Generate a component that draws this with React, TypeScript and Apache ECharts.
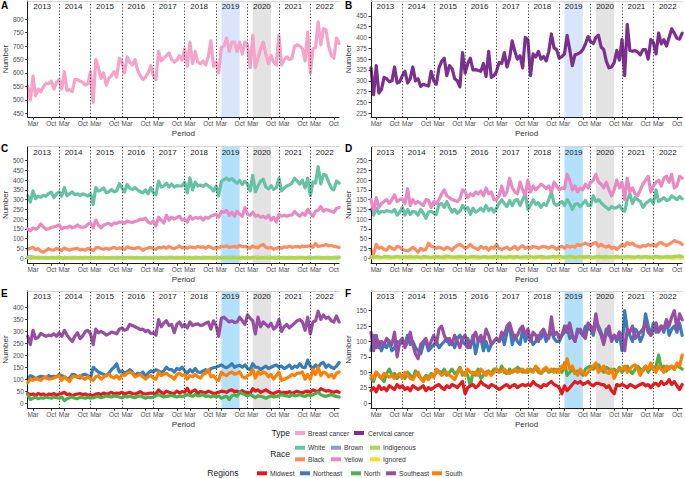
import React, { useEffect, useRef } from "react";
import * as echarts from "echarts";

const FONT = "'Liberation Sans', Arial, Helvetica, sans-serif";

const YEARS = ["2013", "2014", "2015", "2016", "2017", "2018", "2019", "2020", "2021", "2022"];
const MONTH_NAMES = ["Jan", "Feb", "Mar", "Apr", "May", "Jun", "Jul", "Aug", "Sep", "Oct", "Nov", "Dec"];
const X_TICK_MONTHS = ["Mar", "Oct"];
const BAND_2019 = [74, 81];
const BAND_2020 = [86, 93];

const Y_TICKS_A = [450, 500, 550, 600, 650, 700, 750, 800];
const Y_TICKS_B = [225, 250, 275, 300, 325, 350, 375, 400, 425, 450];
const Y_TICKS_C = [0, 50, 100, 150, 200, 250, 300, 350, 400, 450, 500];
const Y_TICKS_D = [0, 25, 50, 75, 100, 125, 150, 175, 200, 225, 250];
const Y_TICKS_E = [0, 50, 100, 150, 200, 250, 300, 350, 400];
const Y_TICKS_F = [0, 25, 50, 75, 100, 125, 150];

// Panel A: breast cancer
const BREAST = [
  550, 500, 588, 515, 540, 530, 548, 562, 560, 570, 540, 565,
  575, 540, 605, 535, 538, 530, 575, 575, 570, 565, 555, 560,
  605, 490, 650, 620, 580, 600, 555, 580, 590, 605, 585, 655,
  640, 600, 660, 640, 630, 650, 610, 590, 575, 585, 600, 628,
  590, 575, 680, 645, 655, 665, 675, 650, 640, 648, 665, 648,
  690, 625, 715, 635, 680, 640, 635, 645, 630, 660, 720, 625,
  640, 600, 695, 700, 730, 680, 715, 715, 680, 715, 670, 715,
  705, 620, 740, 620, 655, 690, 715, 670, 635, 665, 640, 630,
  740, 630, 650, 660, 650, 655, 700, 705, 700, 690, 645, 752,
  600, 690, 695, 790, 705, 765, 760, 700, 665, 655, 730, 710,
];
// Panel B: cervical cancer
const CERVICAL = [
  330, 268, 335, 272, 280, 308, 305, 298, 300, 332, 295, 298,
  312, 322, 295, 305, 332, 300, 305, 287, 292, 290, 288, 322,
  300, 292, 330, 345, 352, 312, 335, 328, 305, 300, 286, 365,
  318, 340, 352, 325, 326, 324, 322, 340, 310, 368, 308, 312,
  322, 342, 340, 365, 332, 352, 392, 368, 350, 358, 330, 400,
  395, 312, 362, 355, 368, 350, 356, 346, 368, 408, 376, 372,
  352, 356, 362, 405, 372, 335, 360, 362, 365, 372, 385, 402,
  390, 386, 400, 405, 378, 372, 345, 330, 332, 342, 370, 348,
  395, 312, 430, 370, 368, 370, 366, 360, 372, 372, 350, 395,
  388, 362, 410, 385, 395, 380, 400, 420, 410, 398, 396, 410,
];

// Panel C: breast cancer by race
const C_WHITE = [
  320, 288, 345, 305, 318, 312, 322, 318, 332, 338, 310, 330,
  340, 318, 362, 320, 330, 340, 325, 330, 322, 330, 325, 318,
  330, 275, 362, 345, 350, 360, 335, 340, 352, 340, 345, 382,
  360, 340, 378, 358, 352, 362, 350, 340, 335, 350, 330, 362,
  335, 325, 395, 365, 370, 385, 365, 380, 365, 372, 370, 370,
  390, 335, 412, 350, 390, 370, 375, 368, 380, 370, 362, 345,
  370, 320, 395, 402, 410, 400, 408, 395, 385, 398, 378, 395,
  380, 345, 425, 340, 370, 395, 405, 365, 355, 372, 352, 362,
  410, 345, 360, 370, 375, 385, 410, 395, 380, 400, 360, 410,
  320, 390, 385, 470, 380, 430, 425, 390, 360, 350, 395, 385,
];
const C_BLACK = [
  45, 50, 55, 42, 48, 35, 30, 40, 48, 42, 40, 50,
  45, 38, 52, 45, 40, 45, 48, 50, 42, 45, 40, 50,
  45, 38, 52, 55, 48, 45, 50, 45, 50, 55, 48, 52,
  50, 45, 58, 52, 50, 48, 55, 50, 40, 48, 52, 55,
  48, 45, 55, 52, 58, 50, 60, 52, 48, 55, 62, 52,
  55, 50, 58, 55, 52, 60, 55, 58, 50, 60, 55, 48,
  55, 52, 60, 58, 62, 55, 58, 60, 55, 65, 58, 60,
  55, 50, 62, 55, 52, 65, 70, 55, 50, 55, 45, 50,
  55, 50, 58, 55, 60, 55, 58, 60, 55, 62, 58, 60,
  65, 55, 75, 60, 62, 65, 70, 62, 65, 60, 58, 55,
];
const C_BROWN = [
  5, 6, 5, 4, 3, 3, 2, 3, 2, 3, 2, 3,
  3, 2, 3, 2, 3, 4, 3, 2, 3, 2, 3, 2,
  2, 3, 2, 3, 2, 3, 2, 2, 3, 2, 3, 2,
  3, 2, 3, 4, 3, 2, 3, 2, 2, 3, 2, 3,
  2, 3, 2, 3, 2, 3, 4, 3, 2, 3, 2, 3,
  3, 2, 3, 2, 3, 3, 2, 3, 4, 3, 2, 3,
  3, 4, 3, 2, 3, 3, 4, 3, 2, 3, 3, 2,
  3, 2, 3, 4, 5, 3, 2, 3, 4, 3, 2, 3,
  3, 2, 3, 2, 3, 3, 2, 3, 4, 3, 2, 3,
  3, 2, 3, 4, 3, 2, 3, 3, 2, 3, 4, 5,
];
const C_YELLOW = [
  150, 140, 155, 148, 155, 175, 160, 148, 150, 158, 160, 165,
  170, 150, 158, 155, 165, 155, 160, 170, 160, 158, 160, 175,
  180, 155, 195, 170, 155, 168, 175, 178, 168, 180, 178, 185,
  185, 178, 190, 185, 182, 188, 192, 200, 198, 205, 185, 178,
  190, 165, 210, 195, 180, 220, 195, 210, 200, 208, 215, 195,
  200, 185, 215, 200, 208, 205, 210, 195, 210, 205, 215, 220,
  225, 210, 240, 235, 245, 220, 235, 215, 240, 225, 215, 260,
  225, 220, 235, 215, 220, 210, 215, 205, 220, 195, 210, 185,
  225, 215, 220, 215, 220, 220, 240, 225, 215, 230, 220, 250,
  230, 215, 240, 245, 265, 240, 250, 245, 240, 235, 255, 260,
];
const C_INDIGENOUS = [
  1, 0, 1, 1, 0, 1, 1, 0, 1, 1, 0, 1,
  1, 1, 0, 1, 1, 0, 1, 1, 1, 0, 1, 1,
  0, 1, 1, 0, 1, 1, 1, 0, 1, 1, 0, 1,
  1, 0, 1, 1, 1, 0, 1, 1, 0, 1, 1, 0,
  1, 1, 0, 1, 1, 0, 1, 1, 1, 0, 1, 1,
  0, 1, 1, 1, 0, 1, 1, 0, 1, 1, 1, 0,
  1, 1, 0, 1, 1, 1, 0, 1, 1, 0, 1, 1,
  1, 0, 1, 1, 0, 1, 1, 1, 0, 1, 1, 0,
  1, 1, 1, 0, 1, 1, 0, 1, 1, 1, 0, 1,
  0, 1, 1, 1, 0, 1, 1, 0, 1, 1, 1, 1,
];
const C_IGNORED = [
  2, 1, 2, 1, 1, 2, 1, 1, 2, 1, 1, 2,
  1, 2, 1, 1, 2, 1, 1, 2, 1, 1, 2, 1,
  1, 1, 2, 1, 1, 2, 1, 1, 1, 2, 1, 1,
  2, 1, 1, 2, 1, 1, 1, 2, 1, 1, 2, 1,
  1, 2, 1, 1, 1, 2, 1, 1, 2, 1, 1, 1,
  2, 1, 1, 2, 1, 1, 2, 1, 1, 1, 2, 1,
  1, 1, 2, 1, 1, 2, 1, 1, 2, 1, 1, 2,
  1, 2, 1, 1, 2, 1, 1, 1, 2, 1, 2, 1,
  1, 1, 2, 1, 2, 1, 1, 2, 1, 1, 2, 1,
  2, 1, 1, 2, 1, 1, 2, 1, 1, 2, 1, 1,
];

// Panel D: cervical cancer by race
const D_WHITE = [
  125, 110, 128, 115, 120, 118, 122, 120, 118, 125, 110, 118,
  130, 110, 125, 112, 120, 118, 110, 125, 115, 102, 118, 120,
  115, 112, 138, 140, 130, 145, 130, 118, 125, 115, 120, 135,
  125, 130, 112, 128, 118, 122, 128, 120, 135, 122, 128, 118,
  128, 140, 150, 140, 132, 148, 135, 148, 150, 135, 150, 165,
  125, 135, 150, 138, 142, 130, 140, 135, 150, 170, 140, 135,
  140, 145, 135, 150, 140, 125, 138, 140, 132, 140, 148, 135,
  135, 160, 145, 150, 142, 135, 130, 125, 132, 128, 130, 135,
  125, 120, 150, 165, 140, 155, 150, 145, 130, 140, 145, 150,
  140, 175, 145, 150, 155, 148, 150, 160, 155, 150, 158, 152,
];
const D_BLACK = [
  20, 10, 35, 25, 28, 22, 20, 30, 25, 22, 30, 28,
  22, 20, 18, 22, 28, 22, 15, 25, 20, 22, 38, 30,
  28, 25, 28, 25, 22, 28, 25, 20, 28, 32, 35, 30,
  25, 28, 35, 28, 25, 22, 30, 25, 28, 20, 28, 25,
  35, 25, 22, 25, 28, 22, 25, 30, 22, 28, 32, 25,
  28, 25, 30, 28, 25, 28, 30, 28, 25, 30, 28, 22,
  28, 30, 25, 32, 28, 30, 28, 35, 32, 35, 38, 35,
  32, 38, 40, 30, 35, 30, 28, 32, 25, 28, 22, 28,
  35, 30, 40, 35, 38, 32, 30, 28, 32, 30, 35, 32,
  35, 30, 38, 40, 35, 32, 35, 40, 45, 42, 40, 35,
];
const D_BROWN = [
  2, 1, 2, 1, 1, 2, 1, 1, 2, 1, 2, 1,
  1, 2, 1, 1, 2, 1, 2, 1, 1, 2, 1, 1,
  2, 1, 1, 2, 1, 1, 2, 1, 2, 1, 1, 2,
  1, 1, 2, 1, 2, 1, 1, 2, 1, 1, 2, 1,
  2, 1, 1, 2, 1, 2, 1, 1, 2, 1, 1, 2,
  1, 2, 1, 1, 2, 1, 1, 2, 1, 2, 1, 1,
  2, 1, 2, 1, 1, 2, 1, 1, 2, 1, 1, 2,
  1, 1, 2, 1, 2, 1, 1, 2, 1, 1, 2, 1,
  2, 1, 1, 2, 1, 1, 2, 1, 1, 2, 1, 2,
  1, 2, 1, 1, 2, 1, 2, 1, 1, 2, 1, 1,
];
const D_YELLOW = [
  150, 120, 155, 130, 140, 145, 150, 140, 150, 162, 145, 150,
  152, 140, 178, 135, 150, 140, 145, 140, 135, 150, 148, 130,
  145, 140, 150, 165, 175, 160, 155, 150, 148, 145, 152, 175,
  170, 155, 165, 160, 170, 165, 172, 160, 180, 165, 170, 150,
  150, 160, 185, 160, 170, 205, 180, 170, 165, 195, 175, 160,
  200, 170, 185, 175, 182, 190, 185, 178, 185, 170, 195, 185,
  175, 180, 178, 215, 200, 175, 185, 170, 180, 175, 190, 180,
  195, 200, 215, 195, 190, 180, 195, 175, 160, 175, 200, 180,
  195, 150, 205, 170, 180, 165, 160, 175, 190, 200, 210, 170,
  185, 195, 200, 185, 205, 210, 195, 215, 180, 185, 210, 205,
];
const D_INDIGENOUS = [
  3, 2, 4, 3, 2, 3, 4, 3, 2, 3, 4, 3,
  2, 3, 3, 4, 2, 3, 3, 2, 4, 3, 3, 2,
  3, 4, 3, 2, 3, 5, 3, 3, 2, 3, 4, 3,
  3, 2, 3, 4, 3, 3, 2, 4, 3, 3, 2, 3,
  4, 3, 3, 2, 3, 4, 3, 3, 4, 2, 3, 3,
  3, 4, 2, 3, 3, 4, 3, 2, 3, 3, 4, 3,
  5, 3, 2, 3, 4, 3, 2, 3, 4, 3, 3, 4,
  3, 2, 3, 4, 3, 3, 4, 2, 3, 3, 4, 3,
  2, 3, 4, 3, 3, 2, 4, 3, 3, 4, 3, 2,
  3, 4, 3, 3, 2, 4, 3, 3, 4, 5, 6, 4,
];
const D_IGNORED = [
  1, 0, 1, 0, 1, 1, 0, 1, 0, 1, 1, 0,
  1, 1, 0, 1, 0, 1, 1, 0, 1, 0, 1, 1,
  0, 1, 1, 0, 1, 0, 1, 1, 0, 1, 0, 1,
  1, 0, 1, 1, 0, 1, 0, 1, 1, 0, 1, 0,
  1, 1, 0, 1, 0, 1, 1, 0, 1, 1, 0, 1,
  0, 1, 1, 0, 1, 1, 0, 1, 0, 1, 1, 0,
  1, 0, 1, 1, 0, 1, 1, 0, 1, 0, 1, 1,
  0, 1, 0, 1, 1, 0, 1, 1, 0, 1, 0, 1,
  1, 1, 0, 1, 0, 1, 1, 0, 1, 1, 0, 1,
  0, 1, 1, 0, 1, 1, 0, 1, 0, 1, 1, 0,
];

// Panel E: breast cancer by region
const E_MIDWEST = [
  40, 35, 38, 32, 40, 35, 38, 30, 38, 35, 40, 32,
  38, 40, 45, 35, 38, 30, 35, 38, 40, 35, 38, 32,
  35, 30, 38, 40, 35, 42, 38, 40, 45, 38, 42, 40,
  45, 38, 42, 45, 40, 38, 42, 48, 40, 38, 40, 42,
  40, 38, 55, 45, 40, 50, 45, 42, 40, 50, 42, 48,
  45, 62, 40, 50, 55, 40, 48, 45, 42, 50, 45, 40,
  42, 45, 50, 48, 45, 52, 55, 48, 50, 45, 52, 45,
  45, 40, 60, 50, 55, 45, 50, 55, 48, 42, 40, 45,
  50, 40, 45, 42, 48, 40, 45, 50, 45, 42, 48, 50,
  45, 55, 50, 48, 60, 55, 50, 52, 48, 45, 50, 45,
];
const E_NORTHEAST = [
  100, 115, 110, 100, 108, 112, 110, 105, 115, 110, 112, 110,
  120, 115, 110, 100, 105, 120, 118, 110, 105, 118, 120, 115,
  105, 150, 140, 130, 125, 120, 115, 125, 140, 150, 165, 130,
  135, 125, 130, 140, 130, 115, 125, 120, 130, 110, 125, 135,
  130, 140, 135, 128, 135, 150, 140, 140, 130, 145, 140, 150,
  135, 125, 140, 130, 145, 130, 128, 135, 140, 130, 145, 148,
  150, 155, 160, 152, 148, 155, 165, 150, 155, 158, 150, 160,
  145, 140, 165, 150, 150, 140, 148, 155, 145, 150, 155, 160,
  150, 155, 145, 150, 160, 145, 155, 150, 165, 150, 148, 180,
  155, 145, 160, 150, 165, 170, 150, 160, 150, 145, 155, 170,
];
const E_NORTH = [
  35, 15, 20, 25, 18, 22, 20, 25, 22, 20, 25, 22,
  20, 25, 10, 18, 22, 25, 20, 18, 25, 22, 20, 25,
  20, 22, 25, 28, 22, 25, 30, 28, 25, 30, 28, 25,
  22, 28, 25, 30, 25, 22, 28, 30, 25, 20, 25, 22,
  25, 30, 35, 30, 25, 28, 30, 32, 28, 25, 30, 28,
  30, 35, 32, 28, 35, 30, 32, 35, 28, 30, 25, 30,
  25, 30, 20, 25, 28, 15, 30, 35, 28, 45, 40, 35,
  30, 35, 30, 22, 30, 28, 25, 20, 25, 30, 25, 28,
  30, 35, 32, 30, 28, 35, 30, 32, 35, 30, 28, 35,
  30, 35, 40, 45, 35, 30, 28, 32, 35, 30, 28, 25,
];
const E_SOUTHEAST = [
  280, 245, 305, 270, 275, 292, 285, 280, 285, 282, 290, 280,
  295, 280, 305, 285, 270, 258, 280, 295, 270, 282, 300, 305,
  290, 245, 310, 295, 300, 295, 285, 290, 298, 295, 290, 310,
  315, 305, 310, 330, 325, 320, 315, 308, 310, 300, 305, 292,
  295, 285, 350, 320, 335, 345, 325, 330, 295, 330, 340, 320,
  330, 315, 340, 325, 330, 332, 325, 328, 335, 340, 310, 345,
  325, 280, 355, 360, 350, 340, 345, 338, 340, 360, 345, 330,
  370, 355, 345, 290, 360, 320, 340, 330, 320, 335, 310, 320,
  350, 300, 320, 330, 315, 325, 335, 345, 350, 340, 305, 360,
  290, 340, 345, 385, 350, 370, 355, 360, 345, 340, 365, 340,
];
const E_SOUTH = [
  85, 100, 95, 105, 100, 95, 105, 110, 100, 102, 105, 110,
  115, 95, 110, 100, 90, 110, 112, 108, 115, 105, 100, 110,
  100, 95, 110, 115, 100, 108, 115, 120, 110, 105, 115, 100,
  120, 115, 125, 130, 125, 110, 115, 120, 110, 100, 110, 115,
  105, 100, 130, 115, 120, 125, 115, 110, 100, 120, 125, 115,
  120, 100, 115, 110, 120, 110, 105, 120, 125, 140, 110, 115,
  100, 95, 130, 120, 115, 125, 130, 120, 125, 130, 110, 105,
  115, 120, 140, 105, 130, 120, 130, 125, 110, 120, 100, 115,
  130, 95, 100, 105, 110, 120, 115, 125, 125, 130, 100, 120,
  100, 140, 120, 150, 115, 130, 125, 110, 120, 105, 125, 130,
];

// Panel F: cervical cancer by region
const F_MIDWEST = [
  20, 25, 18, 28, 22, 25, 20, 28, 25, 22, 30, 25,
  28, 22, 25, 20, 28, 25, 22, 25, 28, 20, 25, 22,
  25, 28, 30, 25, 22, 28, 25, 30, 28, 25, 30, 35,
  15, 25, 28, 30, 25, 28, 35, 30, 28, 25, 30, 28,
  25, 22, 25, 28, 30, 25, 28, 30, 25, 28, 30, 28,
  30, 28, 35, 30, 28, 25, 30, 28, 32, 35, 30, 28,
  25, 15, 28, 20, 25, 30, 35, 32, 35, 30, 32, 35,
  30, 28, 32, 32, 30, 30, 25, 28, 20, 15, 30, 28,
  30, 28, 25, 30, 28, 25, 28, 30, 32, 28, 30, 25,
  30, 32, 28, 35, 30, 32, 38, 30, 35, 28, 22, 30,
];
const F_NORTHEAST = [
  85, 110, 90, 100, 85, 95, 90, 100, 85, 90, 100, 95,
  100, 95, 110, 95, 100, 90, 85, 80, 95, 100, 85, 90,
  95, 100, 90, 95, 100, 105, 95, 100, 90, 105, 110, 100,
  95, 105, 90, 110, 80, 100, 105, 85, 100, 85, 95, 100,
  105, 100, 110, 95, 115, 125, 95, 110, 100, 95, 120, 100,
  110, 105, 95, 100, 110, 105, 115, 100, 110, 115, 105, 100,
  100, 110, 115, 125, 105, 110, 100, 120, 115, 110, 125, 120,
  120, 110, 130, 125, 115, 100, 120, 110, 105, 110, 100, 115,
  85, 150, 120, 110, 100, 120, 115, 100, 110, 145, 125, 110,
  130, 115, 120, 125, 115, 135, 110, 120, 125, 115, 130, 110,
];
const F_NORTH = [
  40, 35, 50, 45, 40, 35, 48, 55, 45, 48, 40, 45,
  45, 40, 50, 45, 40, 52, 45, 40, 38, 45, 42, 48,
  45, 50, 52, 48, 55, 45, 50, 55, 48, 50, 58, 45,
  50, 45, 28, 50, 45, 55, 40, 45, 50, 52, 48, 55,
  55, 50, 60, 50, 48, 55, 50, 52, 58, 55, 50, 52,
  50, 55, 52, 58, 50, 48, 52, 55, 50, 52, 55, 50,
  55, 50, 65, 45, 50, 55, 48, 52, 50, 45, 55, 58,
  60, 55, 58, 62, 55, 50, 58, 55, 52, 55, 50, 58,
  50, 55, 60, 52, 48, 55, 60, 55, 52, 60, 50, 58,
  55, 60, 78, 55, 60, 52, 58, 60, 55, 62, 58, 55,
];
const F_SOUTHEAST = [
  115, 85, 110, 90, 100, 95, 105, 100, 95, 115, 75, 100,
  105, 90, 100, 115, 95, 80, 72, 95, 100, 105, 90, 100,
  110, 95, 120, 125, 110, 100, 105, 95, 110, 100, 90, 105,
  110, 90, 95, 105, 115, 100, 110, 98, 120, 110, 95, 100,
  105, 100, 115, 110, 125, 130, 115, 105, 110, 120, 125, 110,
  120, 100, 115, 110, 100, 115, 120, 110, 105, 140, 110, 115,
  105, 110, 125, 115, 130, 110, 100, 115, 120, 110, 105, 130,
  125, 115, 145, 120, 110, 95, 115, 125, 100, 110, 105, 115,
  110, 85, 120, 115, 125, 105, 110, 115, 120, 130, 115, 110,
  120, 130, 115, 125, 120, 135, 125, 140, 150, 120, 145, 135,
];
const F_SOUTH = [
  45, 40, 50, 45, 40, 48, 45, 42, 45, 40, 45, 48,
  40, 50, 45, 40, 38, 45, 50, 40, 35, 42, 38, 45,
  42, 55, 50, 45, 48, 50, 45, 42, 38, 48, 55, 50,
  45, 55, 50, 48, 50, 45, 55, 50, 45, 52, 45, 50,
  55, 50, 52, 55, 50, 48, 52, 55, 50, 52, 55, 50,
  55, 52, 50, 60, 55, 48, 55, 58, 52, 55, 50, 55,
  50, 60, 55, 72, 55, 60, 50, 45, 55, 50, 45, 50,
  55, 60, 65, 50, 55, 60, 50, 48, 55, 40, 50, 55,
  55, 60, 50, 55, 60, 62, 55, 45, 55, 60, 55, 65,
  55, 50, 60, 55, 50, 60, 55, 60, 55, 65, 60, 78,
];

const COLORS: Record<string, string> = {
  "Breast cancer": "#F5A3C8",
  "Cervical cancer": "#7B2F8F",
  White: "#66C2A5",
  Black: "#FC8D62",
  Brown: "#8DA0CB",
  Yellow: "#E78AC3",
  Indigenous: "#A6D854",
  Ignored: "#FFD92F",
  Midwest: "#E41A1C",
  Northeast: "#377EB8",
  North: "#4DAF4A",
  Southeast: "#984EA3",
  South: "#FF7F00",
};

const BAND_AB = "#D9E5FB";
const BAND_CF = "#B3E0FB";
const BAND_GREY = "#E3E3E3";

type Panel = {
  letter: string;
  left: number;
  top: number;
  height: number;
  yMin: number;
  yMax: number;
  yTicks: number[];
  band: string;
  nameGap: number;
  series: [string, number[]][];
};

const COL_LEFT = [25.5, 371];
const PLOT_W = 313.6;
const ROW_TOP = [1, 146.5, 291];
const ROW_H = [116.3, 116.8, 117.3];
const LETTER_Y = [0, 143.5, 288.5];

const PANELS: Panel[] = [
  { letter: "A", left: COL_LEFT[0], top: ROW_TOP[0], height: ROW_H[0], yMin: 435, yMax: 868, yTicks: Y_TICKS_A, band: BAND_AB, nameGap: 17, series: [["Breast cancer", BREAST]] },
  { letter: "B", left: COL_LEFT[1], top: ROW_TOP[0], height: ROW_H[0], yMin: 216, yMax: 484, yTicks: Y_TICKS_B, band: BAND_AB, nameGap: 18.5, series: [["Cervical cancer", CERVICAL]] },
  { letter: "C", left: COL_LEFT[0], top: ROW_TOP[1], height: ROW_H[1], yMin: -27, yMax: 573, yTicks: Y_TICKS_C, band: BAND_CF, nameGap: 17, series: [["White", C_WHITE], ["Black", C_BLACK], ["Brown", C_BROWN], ["Yellow", C_YELLOW], ["Ignored", C_IGNORED], ["Indigenous", C_INDIGENOUS]] },
  { letter: "D", left: COL_LEFT[1], top: ROW_TOP[1], height: ROW_H[1], yMin: -13.6, yMax: 286.5, yTicks: Y_TICKS_D, band: BAND_CF, nameGap: 18.5, series: [["White", D_WHITE], ["Black", D_BLACK], ["Brown", D_BROWN], ["Yellow", D_YELLOW], ["Ignored", D_IGNORED], ["Indigenous", D_INDIGENOUS]] },
  { letter: "E", left: COL_LEFT[0], top: ROW_TOP[2], height: ROW_H[2], yMin: -22.2, yMax: 470, yTicks: Y_TICKS_E, band: BAND_CF, nameGap: 17, series: [["Southeast", E_SOUTHEAST], ["Northeast", E_NORTHEAST], ["South", E_SOUTH], ["Midwest", E_MIDWEST], ["North", E_NORTH]] },
  { letter: "F", left: COL_LEFT[1], top: ROW_TOP[2], height: ROW_H[2], yMin: -8.6, yMax: 182, yTicks: Y_TICKS_F, band: BAND_CF, nameGap: 18.5, series: [["Northeast", F_NORTHEAST], ["Southeast", F_SOUTHEAST], ["North", F_NORTH], ["South", F_SOUTH], ["Midwest", F_MIDWEST]] },
];

const N_MONTHS = YEARS.length * 12;
const X_TICK_POS: number[] = [];
for (let m = 0; m < N_MONTHS; m++) {
  if (X_TICK_MONTHS.includes(MONTH_NAMES[m % 12])) X_TICK_POS.push(m);
}
const YEAR_CENTERS = YEARS.map((_, i) => i * 12 + 5.5);
const YEAR_BOUNDS = YEARS.slice(1).map((_, i) => (i + 1) * 12);

const LEGEND_TYPE: [string, number, number][] = [
  ["Breast cancer", 295, 308],
  ["Cervical cancer", 354, 368],
];
const LEGEND_RACE: [string, number, number, number][] = [
  ["White", 295, 308, 447.7],
  ["Black", 295, 308, 459.3],
  ["Brown", 331, 344, 447.7],
  ["Yellow", 331, 344, 459.3],
  ["Indigenous", 370, 383, 447.7],
  ["Ignored", 370, 383, 459.3],
];
const LEGEND_REGIONS: [string, number, number][] = [
  ["Midwest", 257, 270],
  ["Northeast", 300, 313],
  ["North", 351, 364],
  ["Southeast", 386, 399],
  ["South", 432, 445],
];

function buildOption() {
  const grid: any[] = [];
  const xAxis: any[] = [];
  const yAxis: any[] = [];
  const series: any[] = [];
  const graphic: any[] = [];

  PANELS.forEach((p, i) => {
    grid.push({ left: p.left, top: p.top, width: PLOT_W, height: p.height, containLabel: false });
    xAxis.push({
      gridIndex: i,
      type: "value",
      min: 0,
      max: N_MONTHS - 1,
      position: "bottom",
      axisLine: { show: true, onZero: false, lineStyle: { color: "#1a1a1a", width: 1 } },
      axisTick: { show: true, length: 2.5, customValues: X_TICK_POS, lineStyle: { color: "#333" } },
      axisLabel: {
        customValues: X_TICK_POS,
        formatter: (v: number) => MONTH_NAMES[Math.round(v) % 12],
        fontSize: 6.5,
        color: "#4D4D4D",
        fontFamily: FONT,
        margin: 3,
      },
      splitLine: { show: false },
      name: "Period",
      nameLocation: "middle",
      nameGap: 12.5,
      nameTextStyle: { fontSize: 8, color: "#333", fontFamily: FONT },
      z: 5,
    });
    xAxis.push({
      gridIndex: i,
      type: "value",
      min: 0,
      max: N_MONTHS - 1,
      position: "top",
      axisLine: { show: true, onZero: false, lineStyle: { color: "#D6D6D6", width: 1 } },
      axisTick: { show: false },
      axisLabel: {
        inside: true,
        customValues: YEAR_CENTERS,
        formatter: (v: number) => YEARS[Math.floor(v / 12)],
        fontSize: 8,
        color: "#1a1a1a",
        fontFamily: FONT,
        margin: 1.5,
      },
      splitLine: { show: false },
      z: 5,
    });
    yAxis.push({
      gridIndex: i,
      type: "value",
      min: p.yMin,
      max: p.yMax,
      axisLine: { show: true, onZero: false, lineStyle: { color: "#1a1a1a", width: 1 } },
      axisTick: { show: true, length: 2.5, customValues: p.yTicks, lineStyle: { color: "#333" } },
      axisLabel: { customValues: p.yTicks, fontSize: 6.5, color: "#4D4D4D", fontFamily: FONT, margin: 4 },
      splitLine: { show: false },
      name: "Number",
      nameLocation: "middle",
      nameGap: p.nameGap,
      nameTextStyle: { fontSize: 8, color: "#333", fontFamily: FONT },
      z: 5,
    });

    // background bands & year separators
    series.push({
      type: "line",
      name: "bg" + p.letter,
      xAxisIndex: i * 2,
      yAxisIndex: i,
      data: [],
      silent: true,
      z: 1,
      markArea: {
        silent: true,
        data: [
          [{ xAxis: BAND_2019[0], itemStyle: { color: p.band } }, { xAxis: BAND_2019[1] }],
          [{ xAxis: BAND_2020[0], itemStyle: { color: BAND_GREY } }, { xAxis: BAND_2020[1] }],
        ],
      },
      markLine: {
        silent: true,
        symbol: "none",
        label: { show: false },
        lineStyle: { color: "#333", width: 1, type: [1.2, 2] },
        data: YEAR_BOUNDS.map((x) => ({ xAxis: x })),
      },
    });

    p.series.forEach(([name, vals], k) => {
      series.push({
        type: "line",
        name,
        xAxisIndex: i * 2,
        yAxisIndex: i,
        data: vals.map((v, m) => [m, v]),
        showSymbol: false,
        symbol: "none",
        smooth: false,
        z: 3 + k,
        lineStyle: { color: COLORS[name], width: 3.2, cap: "round", join: "round" },
        itemStyle: { color: COLORS[name] },
      });
    });

    graphic.push({
      type: "text",
      left: p.left - (i % 2 === 0 ? 24.5 : 26),
      top: LETTER_Y[Math.floor(i / 2)],
      style: { text: p.letter, font: `bold 10px ${FONT}`, fill: "#000" },
    });
  });

  const legendText = (text: string, x: number, y: number, size: number, align: string, color: string) => ({
    type: "text",
    x,
    y,
    style: { text, font: `${size}px ${FONT}`, fill: color, textAlign: align, textVerticalAlign: "middle" },
  });
  const legendKey = (color: string, x: number, y: number) => ({
    type: "rect",
    shape: { x, y: y - 2, width: 10, height: 4 },
    style: { fill: color },
  });

  graphic.push(legendText("Type", 290, 433, 8.5, "right", "#1a1a1a"));
  LEGEND_TYPE.forEach(([n, kx, tx]) => {
    graphic.push(legendKey(COLORS[n], kx, 433));
    graphic.push(legendText(n, tx, 433, 6.7, "left", "#333"));
  });
  graphic.push(legendText("Race", 290, 453.5, 8.5, "right", "#1a1a1a"));
  LEGEND_RACE.forEach(([n, kx, tx, y]) => {
    graphic.push(legendKey(COLORS[n], kx, y));
    graphic.push(legendText(n, tx, y, 6.7, "left", "#333"));
  });
  graphic.push(legendText("Regions", 238.5, 473.3, 8.5, "right", "#1a1a1a"));
  LEGEND_REGIONS.forEach(([n, kx, tx]) => {
    graphic.push(legendKey(COLORS[n], kx, 473.3));
    graphic.push(legendText(n, tx, 473.3, 6.7, "left", "#333"));
  });

  return {
    animation: false,
    backgroundColor: "#ffffff",
    textStyle: { fontFamily: FONT },
    grid,
    xAxis,
    yAxis,
    series,
    graphic,
  };
}

export default function App() {
  const ref = useRef<HTMLDivElement>(null);
  useEffect(() => {
    if (!ref.current) return;
    const chart = echarts.init(ref.current, undefined, { renderer: "svg" });
    chart.setOption(buildOption() as any);
    return () => chart.dispose();
  }, []);
  return <div ref={ref} style={{ width: 685, height: 478, position: "absolute", left: 0, top: 0 }} />;
}
